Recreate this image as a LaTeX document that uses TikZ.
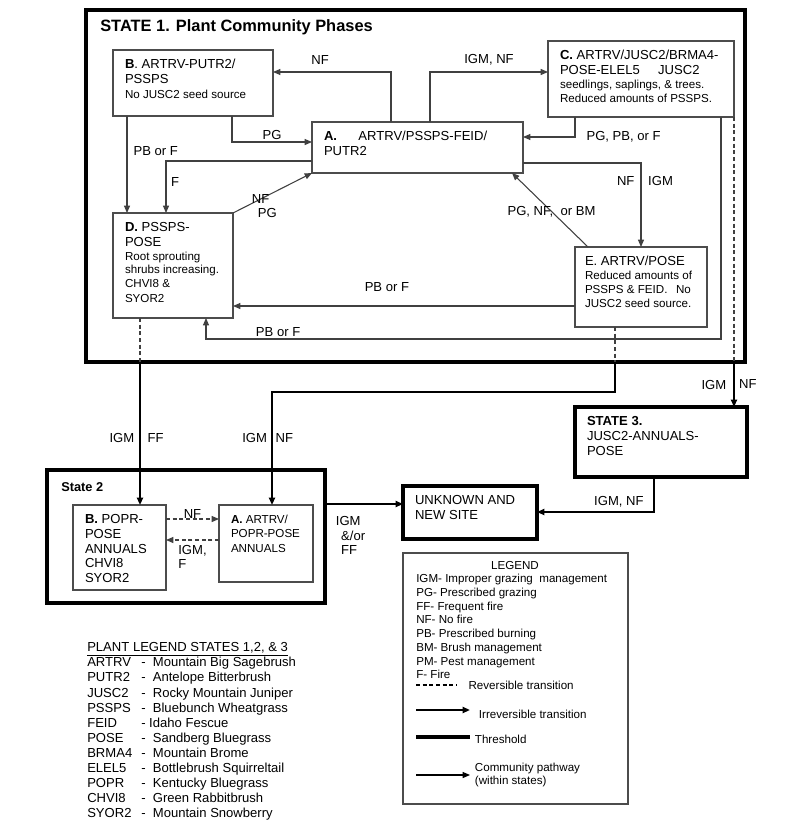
\documentclass[tikz,border=0pt]{standalone}
\usepackage{fontspec}
\setmainfont{Liberation Sans}
\usetikzlibrary{arrows.meta,positioning}

\newcommand{\codefont}{\fontsize{9.8}{11}\selectfont}
\newcommand{\notefont}{\fontsize{8.7}{10.3}\selectfont}

\begin{document}
\begin{tikzpicture}[x=0.75pt,y=-0.75pt,>={Triangle[length=5.5pt,width=4.5pt]},
  font=\codefont,
  phase/.style={draw=black!70,line width=0.8pt,anchor=north west,align=flush left,
    inner xsep=9pt,inner ysep=4pt,text height=10pt,outer sep=0pt},
  statebox/.style={phase,draw=black,line width=3pt},
  pathway/.style={->,draw=black!75,line width=0.8pt},
  transition/.style={->,draw=black,line width=1.6pt},
  revline/.style={draw=black!75,line width=0.8pt,dash pattern=on 3pt off 2pt},
  lbl/.style={inner sep=1.5pt}]

  \useasboundingbox (0,0) rectangle (800,828);

  % states
  \node[statebox,minimum width=494.25pt,minimum height=264pt,inner sep=0pt] (S1) at (86,10) {};
  \node[statebox,minimum width=208.5pt,minimum height=99.75pt,inner sep=0pt] (S2) at (47,470) {};
  \node[anchor=west,inner sep=0pt,font=\bfseries\fontsize{12.3}{14}\selectfont] (t1) at (100,27) {STATE 1. Plant Community Phases};
  \node[anchor=west,inner sep=0pt,font=\bfseries\fontsize{9.6}{11}\selectfont] (t2) at (61,487) {State 2};

  % state 1 phases
  \node[phase,text width=140.25pt,text depth=20.25pt] (A) at (312,122)
    {\textbf{A.}\hspace{16pt}ARTRV/PSSPS-FEID/\\PUTR2};
  \node[phase,text width=102pt,text depth=31.5pt] (B) at (113,50)
    {\textbf{B}. ARTRV-PUTR2/\\PSSPS\\\notefont No JUSC2 seed source};
  \node[phase,text width=121.5pt,text depth=39pt] (C) at (548,41)
    {\textbf{C.} ARTRV/JUSC2/BRMA4-\\POSE-ELEL5\hspace{11pt} JUSC2\\\notefont seedlings, saplings, \& trees.\\Reduced amounts of PSSPS.};
  \node[phase,text width=72pt,text depth=60.75pt] (D) at (113,213)
    {\textbf{D.} PSSPS-\\POSE\\\notefont Root sprouting\\shrubs increasing.\\CHVI8 \&\\SYOR2};
  \node[phase,inner xsep=7.5pt,text width=84pt,text depth=42pt] (E) at (575,247)
    {E. ARTRV/POSE\\\notefont Reduced amounts of\\PSSPS \& FEID.\hspace{4pt} No\\JUSC2 seed source.};

  % state 2 phases, state 3, unknown
  \node[phase,text width=51.75pt,text depth=45.75pt] (S2B) at (73,505)
    {\textbf{B.} POPR-\\POSE\\ANNUALS\\CHVI8\\SYOR2};
  \node[phase,text width=52.5pt,text depth=39.75pt] (S2A) at (219,505)
    {\notefont\textbf{A.} ARTRV/\\POPR-POSE\\ANNUALS};
  \node[statebox,text width=82.5pt,text depth=21.75pt] (U) at (403,486) {UNKNOWN AND\\NEW SITE};
  \node[statebox,text width=111pt,text depth=34.5pt] (S3) at (575,407) {\textbf{STATE 3.}\\JUSC2-ANNUALS-\\POSE};

  % pathways within state 1
  \coordinate (nfx) at (391,72);
  \coordinate (igx) at (430,72);
  \coordinate (pgx) at (232,142);
  \coordinate (fx) at (166,161);
  \coordinate (pbx) at (127,140);
  \coordinate (cax) at (575,137);
  \coordinate (aex) at (641,163);
  \coordinate (edx) at (400,306);
  \coordinate (cdr) at (721,339);
  \coordinate (cdl) at (206,339);

  \draw[pathway] (A.north -| nfx) |- node[lbl,pos=0.8,above=3.5pt] {NF} (B.east |- nfx);
  \draw[pathway] (A.north -| igx) |- node[lbl,pos=0.75,above=3.5pt] {IGM, NF} (C.west |- igx);
  \draw[pathway] (B.south -| pgx) |- node[lbl,pos=0.75,above=0pt] {PG} (A.west |- pgx);
  \draw[pathway] (A.west |- fx) -| node[lbl,pos=0.7,right=2pt] {F} (D.north -| fx);
  \draw[pathway] (B.south -| pbx) -- node[lbl,pos=0.36,right=3pt] {PB or F} (D.north -| pbx);
  \draw[pathway] (D.north east) -- node[lbl,pos=0.35] {NF} node[lbl,pos=0.35,xshift=5pt,yshift=-10.5pt] {PG} (A.south west);
  \draw[pathway] (C.south -| cax) |- node[lbl,pos=0.5,right=6.75pt] {PG, PB, or F} (A.east |- cax);
  \draw[pathway] (A.east |- aex) -| node[lbl,pos=0.61,left=3pt] {NF} node[lbl,pos=0.61,right=3.5pt] {IGM} (E.north -| aex);
  \draw[pathway] ([xshift=9.75pt]E.north west) -- node[lbl,pos=0.48] {PG, NF,\ \ or BM} ([xshift=-8.25pt]A.south east);
  \draw[pathway] (E.west |- edx) -- node[lbl,pos=0.55,above=9pt] {PB or F} (D.east |- edx);
  \draw[pathway] (C.south -| cdr) |- node[lbl,pos=0.93,above=0pt] {PB or F} (cdl) -- (D.south -| cdl);

  % transitions between states
  \coordinate (d2) at (140,362);
  \coordinate (e2) at (615,362);
  \coordinate (e2b) at (272,392);
  \coordinate (s2y) at (190,519);
  \coordinate (s2z) at (190,540);
  \coordinate (s2u) at (360,504);
  \coordinate (s3u) at (654,512);

  \draw[revline] (D.south -| d2) -- (d2);
  \draw[transition] (d2) -- node[lbl,pos=0.53,left=2pt] {IGM} node[lbl,pos=0.53,right=3.5pt] {FF} (S2B.north -| d2);
  \draw[revline] (E.south -| e2) -- (e2);
  \draw[transition] (e2) |- (e2b) -- node[lbl,pos=0.41,left=1.5pt] {IGM} node[lbl,pos=0.41,right=0.5pt] {NF} (S2A.north -| e2b);
  \draw[revline] (C.south east) -- (C.south east |- S1.south);
  \draw[transition] (C.south east |- S1.south) -- node[lbl,pos=0.5,left=3.5pt] {IGM} node[lbl,pos=0.5,right=1.5pt] {NF} (S3.north -| C.south east);
  \draw[revline,->] (S2B.east |- s2y) -- node[lbl,midway,above=-1.5pt] {NF} (S2A.west |- s2y);
  \draw[revline,->] (S2A.west |- s2z) -- node[lbl,midway,below=2pt,align=left] {IGM,\\F} (S2B.east |- s2z);
  \draw[transition] (S2.east |- s2u) -- node[lbl,pos=0.1,anchor=north west,yshift=-7pt,align=left] {IGM\\\hspace*{4pt}\&/or\\\hspace*{4pt}FF} (U.west |- s2u);
  \draw[transition] (S3.south -| s3u) |- node[lbl,pos=0.65,above=1.5pt] {IGM, NF} (U.east |- s3u);

  % legend
  \node[phase,minimum width=168.75pt,minimum height=188.25pt,inner sep=0pt] (leg) at (403,553) {};
  \node[lbl,font=\notefont] (legt) at (515,565) {LEGEND};
  \node[anchor=north west,align=left,inner sep=0pt,font=\notefont] (abbr) at (416,574)
    {IGM- Improper grazing\ \ management\\PG- Prescribed grazing\\FF- Frequent fire\\NF- No fire\\PB- Prescribed burning\\BM- Brush management\\PM- Pest management\\F- Fire};
  \coordinate (rv1) at (416,685); \coordinate (rv2) at (457,685);
  \draw[revline,draw=black] (rv1) -- (rv2);
  \node[lbl,font=\notefont,right=7pt of rv2] (rvt) {Reversible transition};
  \coordinate (ir1) at (416,710); \coordinate (ir2) at (470,710);
  \draw[transition] (ir1) -- (ir2);
  \node[lbl,font=\notefont,right=5pt of ir2,yshift=-3pt] (irt) {Irreversible transition};
  \coordinate (th1) at (416,737); \coordinate (th2) at (470,737);
  \draw[line width=2.5pt] (th1) -- (th2);
  \node[lbl,font=\notefont,right=2pt of th2,yshift=-2pt] (tht) {Threshold};
  \coordinate (cp1) at (416,775); \coordinate (cp2) at (470,775);
  \draw[pathway,draw=black] (cp1) -- (cp2);
  \node[lbl,font=\notefont,align=left,right=2pt of cp2] (cpt) {Community pathway\\(within states)};

  % plant legend
  \node[anchor=north west,inner sep=0pt,font=\fontsize{9.8}{11.3}\selectfont] (plants) at (87,641) {%
    \begin{tabular}{@{}p{40.5pt}@{}l@{}}
    \multicolumn{2}{@{}l@{}}{\underline{PLANT LEGEND STATES 1,2, \& 3}}\\
    ARTRV & -\ \ Mountain Big Sagebrush\\
    PUTR2 & -\ \ Antelope Bitterbrush\\
    JUSC2 & -\ \ Rocky Mountain Juniper\\
    PSSPS & -\ \ Bluebunch Wheatgrass\\
    FEID  & -\ Idaho Fescue\\
    POSE  & -\ \ Sandberg Bluegrass\\
    BRMA4 & -\ \ Mountain Brome\\
    ELEL5 & -\ \ Bottlebrush Squirreltail\\
    POPR  & -\ \ Kentucky Bluegrass\\
    CHVI8 & -\ \ Green Rabbitbrush\\
    SYOR2 & -\ \ Mountain Snowberry
    \end{tabular}};

\end{tikzpicture}
\end{document}
